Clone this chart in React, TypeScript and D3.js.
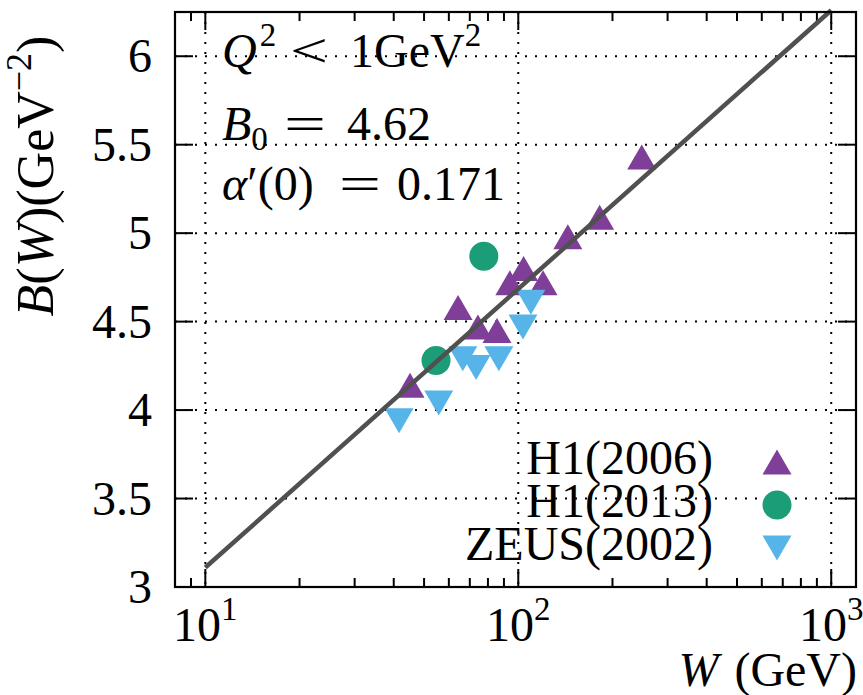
import React from "react";
import * as d3 from "d3";

// ---- data ----
const h1_2006_W = [45.1, 64.2, 74.3, 85.5, 94, 104, 120, 144, 182, 248];
const h1_2006_B = [4.14, 4.58, 4.47, 4.45, 4.72, 4.8, 4.72, 4.98, 5.09, 5.43];

const h1_2013_W = [54.6, 77.6];
const h1_2013_B = [4.28, 4.87];

const zeus_2002_W = [41.6, 55.7, 66.5, 73.3, 86.7, 103.5, 109.7];
const zeus_2002_B = [3.94, 4.04, 4.29, 4.24, 4.29, 4.47, 4.61];

// fit line endpoints (B0 = 4.62, alpha'(0) = 0.171)
const fitW = [10, 1000];
const fitB = [3.11, 6.26];

const yTicks = [3, 3.5, 4, 4.5, 5, 5.5, 6];
const yTickLabels = ["3", "3.5", "4", "4.5", "5", "5.5", "6"];
const xMajor = [10, 100, 1000];
const xMajorExp = ["1", "2", "3"];

const legendNames = ["H1(2006)", "H1(2013)", "ZEUS(2002)"];

const PURPLE = "#7f3f98";
const GREEN = "#1b9e77";
const BLUE = "#56b4e9";
const FONT = "Liberation Serif";

const W = 863, H = 695;
const L = 175, R = 856, T = 12, B = 587;

export default function App() {
  const x = d3.scaleLog().domain([8, 1200]).range([L, R]);
  const y = d3.scaleLinear().domain([3, 6.25]).range([B, T]);

  const minor: number[] = [];
  [1, 10, 100, 1000].forEach((d) => {
    for (let k = 2; k <= 9; k++) {
      const v = k * d;
      if (v > 8 && v < 1200 && !xMajor.includes(v)) minor.push(v);
    }
  });

  const line = d3
    .line<number>()
    .x((_, i) => x(fitW[i]))
    .y((d) => y(d));

  const up = (cx: number, cy: number, s = 14.5, h = 25) =>
    `M${cx - s},${cy + h / 2}L${cx + s},${cy + h / 2}L${cx},${cy - h / 2}Z`;
  const down = (cx: number, cy: number, s = 14.5, h = 25) =>
    `M${cx - s},${cy - h / 2}L${cx + s},${cy - h / 2}L${cx},${cy + h / 2}Z`;

  const fs = 48;
  const sup = 33;
  const legY = [462, 505, 548];
  const legX = 777;
  const tstyle = { fontFamily: FONT };

  return (
    <svg
      width={W}
      height={H}
      style={{ position: "absolute", left: 0, top: 0, background: "#fff", fontFamily: FONT }}
    >
      <rect x={0} y={0} width={W} height={H} fill="#fff" />
      {/* grid */}
      <g stroke="#000" strokeWidth={2} strokeDasharray="2 8" fill="none">
        {yTicks
          .filter((t) => t > 3)
          .map((t) => (
            <line key={"gy" + t} x1={L} x2={R} y1={y(t)} y2={y(t)} />
          ))}
        {xMajor.map((t) => (
          <line key={"gx" + t} x1={x(t)} x2={x(t)} y1={T} y2={B} />
        ))}
      </g>
      {/* ticks */}
      <g stroke="#000" strokeWidth={2}>
        {yTicks.map((t) => (
          <g key={"ty" + t}>
            <line x1={L} x2={L + 18} y1={y(t)} y2={y(t)} />
            <line x1={R} x2={R - 18} y1={y(t)} y2={y(t)} />
          </g>
        ))}
        {xMajor.map((t) => (
          <g key={"tx" + t}>
            <line x1={x(t)} x2={x(t)} y1={B} y2={B - 18} />
            <line x1={x(t)} x2={x(t)} y1={T} y2={T + 18} />
          </g>
        ))}
        {minor.map((t) => (
          <g key={"mx" + t}>
            <line x1={x(t)} x2={x(t)} y1={B} y2={B - 9} />
            <line x1={x(t)} x2={x(t)} y1={T} y2={T + 9} />
          </g>
        ))}
      </g>
      {/* data */}
      {h1_2006_W.map((w, i) => (
        <path key={"a" + i} d={up(x(w), y(h1_2006_B[i]))} fill={PURPLE} />
      ))}
      {h1_2013_W.map((w, i) => (
        <circle key={"b" + i} cx={x(w)} cy={y(h1_2013_B[i])} r={14.5} fill={GREEN} />
      ))}
      {zeus_2002_W.map((w, i) => (
        <path key={"c" + i} d={down(x(w), y(zeus_2002_B[i]))} fill={BLUE} />
      ))}
      <path d={line(fitB) || ""} stroke="#505050" strokeWidth={4.5} fill="none" />
      {/* frame */}
      <rect x={L} y={T} width={R - L} height={B - T} fill="none" stroke="#000" strokeWidth={2.2} />
      {/* y tick labels */}
      <g fontSize={fs} textAnchor="end" fill="#000">
        {yTicks.map((t, i) => (
          <text key={"ly" + t} x={152} y={y(t) + 16} style={tstyle}>
            {yTickLabels[i]}
          </text>
        ))}
      </g>
      {/* x tick labels */}
      <g fontSize={fs} textAnchor="middle" fill="#000">
        {xMajor.map((t, i) => (
          <text key={"lx" + t} x={x(t)} y={641} style={tstyle}>
            10
            <tspan fontSize={sup} dy={-21}>
              {xMajorExp[i]}
            </tspan>
          </text>
        ))}
      </g>
      {/* axis labels */}
      <text x={857} y={686} fontSize={fs} textAnchor="end" style={tstyle}>
        <tspan fontStyle="italic">W</tspan>
        <tspan dx={16}>(GeV)</tspan>
      </text>
      <text
        transform="translate(53,176) rotate(-90)"
        fontSize={52}
        textAnchor="middle"
        style={tstyle}
      >
        <tspan fontStyle="italic">B</tspan>(<tspan fontStyle="italic">W</tspan>)(GeV
        <tspan fontSize={36} dy={-22}>−2</tspan>
        <tspan dy={22}>)</tspan>
      </text>
      {/* annotations */}
      <text y={67} fontSize={fs} style={tstyle}>
        <tspan x={222} fontStyle="italic">Q</tspan>
        <tspan fontSize={sup} dy={-21} dx={3}>2</tspan>
        <tspan x={350} dy={21}>1GeV</tspan>
        <tspan fontSize={sup} dy={-21}>2</tspan>
      </text>
      <text x={290} y={67} fontSize={fs} style={tstyle} textLength={38} lengthAdjust="spacingAndGlyphs">
        &lt;
      </text>
      <text y={140} fontSize={fs} style={tstyle}>
        <tspan x={222} fontStyle="italic">B</tspan>
        <tspan fontSize={sup} dy={10}>0</tspan>
        <tspan x={347} dy={-10}>4.62</tspan>
      </text>
      <text x={284} y={140} fontSize={fs} style={tstyle} textLength={42} lengthAdjust="spacingAndGlyphs">
        =
      </text>
      <text y={200} fontSize={fs} style={tstyle}>
        <tspan x={222} fontStyle="italic">α</tspan>
        <tspan>′(0)</tspan>
        <tspan x={397}>0.171</tspan>
      </text>
      <text x={339} y={200} fontSize={fs} style={tstyle} textLength={42} lengthAdjust="spacingAndGlyphs">
        =
      </text>
      {/* legend */}
      {legendNames.map((n, i) => (
        <text key={n} x={713} y={legY[i] + 12} fontSize={fs} textAnchor="end" style={tstyle}>
          {n}
        </text>
      ))}
      <path d={up(legX, legY[0])} fill={PURPLE} />
      <circle cx={legX} cy={legY[1]} r={14.5} fill={GREEN} />
      <path d={down(legX, legY[2])} fill={BLUE} />
    </svg>
  );
}
